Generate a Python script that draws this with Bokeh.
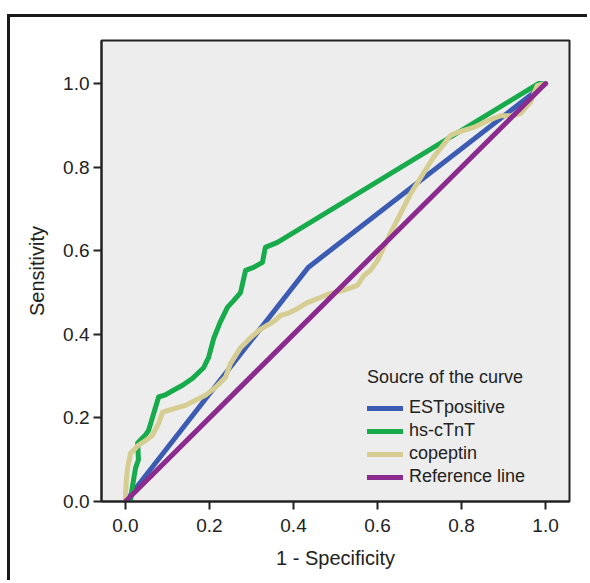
from bokeh.plotting import figure
from bokeh.models import Range1d, Legend, LegendItem, FixedTicker, PrintfTickFormatter
from bokeh.embed import file_html
from bokeh.resources import INLINE

# ---- data ----
est_x = [0.0, 0.435, 1.0]
est_y = [0.0, 0.56, 1.0]

tnt_x = [0.0, 0.012, 0.015, 0.024, 0.031, 0.029, 0.048, 0.055, 0.064, 0.079, 0.095, 0.112,
         0.136, 0.16, 0.186, 0.198, 0.21, 0.226, 0.243, 0.257, 0.274, 0.286, 0.305, 0.326,
         0.333, 0.362, 0.983, 1.0]
tnt_y = [0.0, 0.0, 0.026, 0.08, 0.10, 0.14, 0.16, 0.17, 0.2, 0.25, 0.255, 0.265,
         0.278, 0.295, 0.32, 0.345, 0.39, 0.43, 0.465, 0.48, 0.50, 0.553, 0.56, 0.572,
         0.608, 0.62, 1.0, 1.0]

cop_x = [0.0, 0.0, 0.002, 0.005, 0.012, 0.03, 0.048, 0.064, 0.079, 0.088, 0.102, 0.126,
         0.143, 0.167, 0.19, 0.214, 0.238, 0.25, 0.274, 0.298, 0.321, 0.352, 0.369, 0.386,
         0.41, 0.433, 0.464, 0.488, 0.519, 0.552, 0.567, 0.583, 0.60, 0.63, 0.679, 0.733,
         0.774, 0.79, 0.829, 0.862, 0.893, 0.924, 0.94, 0.964, 0.98, 1.0]
cop_y = [0.0, 0.01, 0.05, 0.08, 0.115, 0.134, 0.146, 0.158, 0.187, 0.213, 0.218, 0.225,
         0.23, 0.242, 0.254, 0.273, 0.297, 0.33, 0.368, 0.392, 0.412, 0.43, 0.445, 0.45,
         0.462, 0.476, 0.488, 0.498, 0.505, 0.517, 0.54, 0.553, 0.577, 0.64, 0.737, 0.823,
         0.876, 0.883, 0.895, 0.911, 0.923, 0.923, 0.928, 0.955, 0.995, 1.0]

ref_x = [0.0, 1.0]
ref_y = [0.0, 1.0]

series_names = ["ESTpositive", "hs-cTnT", "copeptin", "Reference line"]
tick_values = [0.0, 0.2, 0.4, 0.6, 0.8, 1.0]

colors = ["#3b5cb2", "#17ab4b", "#d5cd92", "#8c2b8e"]
FONT = "Liberation Sans"

p = figure(width=580, height=566, output_backend="svg", toolbar_location=None,
           x_range=Range1d(-0.057, 1.057), y_range=Range1d(0.0, 1.103),
           min_border_left=91, min_border_right=21, min_border_top=23, min_border_bottom=82)
p.margin = (14, 0, 0, 7)
p.styles = {"border-left": "3px solid #1a1a1a", "border-top": "3px solid #1a1a1a"}

p.background_fill_color = "#ecedec"
p.border_fill_color = "white"
p.outline_line_color = "#222222"
p.outline_line_width = 2
p.grid.visible = False

for ax in (p.xaxis[0], p.yaxis[0]):
    ax.ticker = FixedTicker(ticks=tick_values)
    ax.formatter = PrintfTickFormatter(format="%.1f")
    ax.minor_tick_line_color = None
    ax.major_tick_in = 0
    ax.major_tick_out = 8
    ax.major_tick_line_width = 2
    ax.major_tick_line_color = "#222222"
    ax.axis_line_color = "#222222"
    ax.axis_line_width = 2
    ax.major_label_text_font = FONT
    ax.major_label_text_font_size = "19px"
    ax.major_label_text_color = "#222222"
    ax.axis_label_text_font = FONT
    ax.axis_label_text_font_size = "20px"
    ax.axis_label_text_font_style = "normal"
    ax.axis_label_text_color = "#222222"

p.xaxis.axis_label = "1 - Specificity"
p.yaxis.axis_label = "Sensitivity"
p.xaxis.major_label_standoff = 9
p.yaxis.major_label_standoff = 4
p.xaxis.axis_label_standoff = 12
p.yaxis.axis_label_standoff = 12

xs = [est_x, tnt_x, cop_x, ref_x]
ys = [est_y, tnt_y, cop_y, ref_y]
renderers = []
for x, y, c in zip(xs, ys, colors):
    r = p.line(x, y, line_color=c, line_width=5, line_join="round", line_cap="round")
    renderers.append(r)

legend = Legend(items=[LegendItem(label=n, renderers=[r]) for n, r in zip(series_names, renderers)],
                location=(266, 14), title="Soucre of the curve")
legend.background_fill_alpha = 0
legend.border_line_color = None
legend.title_text_font = FONT
legend.title_text_font_size = "18px"
legend.title_text_font_style = "normal"
legend.title_text_color = "#222222"
legend.title_standoff = 9
legend.label_text_font = FONT
legend.label_text_font_size = "18px"
legend.label_text_color = "#222222"
legend.glyph_width = 36
legend.glyph_height = 20
legend.label_height = 20
legend.spacing = 2
legend.label_standoff = 6
legend.padding = 8
p.add_layout(legend)

open("out.html", "w").write(file_html(p, INLINE))
